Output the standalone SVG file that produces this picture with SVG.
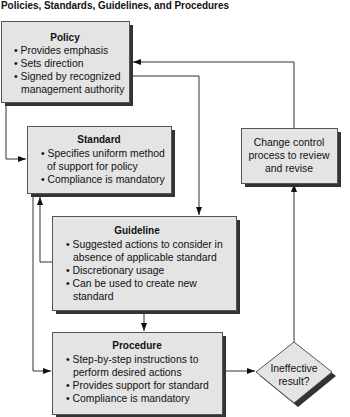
<svg xmlns="http://www.w3.org/2000/svg" width="350" height="417" viewBox="0 0 350 417">
<style>
.box{fill:#e4e4e4;stroke:#555;stroke-width:1}
.sh{fill:#333}
text{font-family:"Liberation Sans",Arial,sans-serif;font-size:10.4px;fill:#111}
.t{font-weight:bold;font-size:10px;text-anchor:middle}
.c{text-anchor:middle}
.ln{fill:none;stroke:#333;stroke-width:1}
</style>
<defs>
<marker id="ah" viewBox="0 0 8 6" refX="8" refY="3" markerWidth="8" markerHeight="6" markerUnits="userSpaceOnUse" orient="auto">
<path d="M0,0 L8,3 L0,6 Z" fill="#111"/>
</marker>
</defs>
<rect width="350" height="417" fill="#fff"/>
<text x="1" y="9" font-weight="bold" font-size="11" textLength="228" lengthAdjust="spacingAndGlyphs">Policies, Standards, Guidelines, and Procedures</text>

<g id="connectors">
<path class="ln" d="M6,105 V159 H26" marker-end="url(#ah)"/>
<path class="ln" d="M130,76 H199 V215" marker-end="url(#ah)"/>
<path class="ln" d="M294,128 V62 H133" marker-end="url(#ah)"/>
<path class="ln" d="M52,262 H40 V197" marker-end="url(#ah)"/>
<path class="ln" d="M33,197 V371 H51" marker-end="url(#ah)"/>
<path class="ln" d="M144,313 V331" marker-end="url(#ah)"/>
<path class="ln" d="M225,371 H255" marker-end="url(#ah)"/>
<path class="ln" d="M294,342 V184" marker-end="url(#ah)"/>
</g>

<g id="policy">
<rect class="sh" x="5" y="25" width="128" height="81"/>
<rect class="box" x="1.5" y="21.5" width="128" height="81"/>
<text class="t" x="65" y="41">Policy</text>
<text x="14" y="54">• Provides emphasis</text>
<text x="14" y="67">• Sets direction</text>
<text x="14" y="80">• Signed by recognized</text>
<text x="21" y="92.5">management authority</text>
</g>

<g id="standard">
<rect class="sh" x="31" y="130" width="144" height="67"/>
<rect class="box" x="27.5" y="126.5" width="144" height="67"/>
<text class="t" x="99" y="143">Standard</text>
<text x="41" y="156.5">• Specifies uniform method</text>
<text x="47" y="169.5">of support for policy</text>
<text x="41" y="182.5">• Compliance is mandatory</text>
</g>

<g id="change">
<rect class="sh" x="245" y="132" width="96" height="55"/>
<rect class="box" x="241.5" y="128.5" width="96" height="55"/>
<text class="c" x="289" y="146">Change control</text>
<text class="c" x="289" y="159">process to review</text>
<text class="c" x="289" y="172">and revise</text>
</g>

<g id="guideline">
<rect class="sh" x="56" y="220" width="184" height="94"/>
<rect class="box" x="52.5" y="216.5" width="184" height="94"/>
<text class="t" x="137" y="234">Guideline</text>
<text x="66" y="247.5">• Suggested actions to consider in</text>
<text x="73" y="260.5">absence of applicable standard</text>
<text x="66" y="273.5">• Discretionary usage</text>
<text x="66" y="286.5">• Can be used to create new</text>
<text x="73" y="299.5">standard</text>
</g>

<g id="procedure">
<rect class="sh" x="56" y="336" width="170" height="82"/>
<rect class="box" x="52.5" y="332.5" width="170" height="82"/>
<text class="t" x="137" y="349">Procedure</text>
<text x="66" y="363">• Step-by-step instructions to</text>
<text x="73" y="376">perform desired actions</text>
<text x="66" y="389">• Provides support for standard</text>
<text x="66" y="402">• Compliance is mandatory</text>
</g>

<g id="decision">
<polygon class="sh" points="298,346 336,376 298,407 260,376"/>
<polygon class="box" points="294,342 332,372 294,403 256,372"/>
<text class="c" x="294" y="372">Ineffective</text>
<text class="c" x="294" y="384.5">result?</text>
</g>
</svg>
